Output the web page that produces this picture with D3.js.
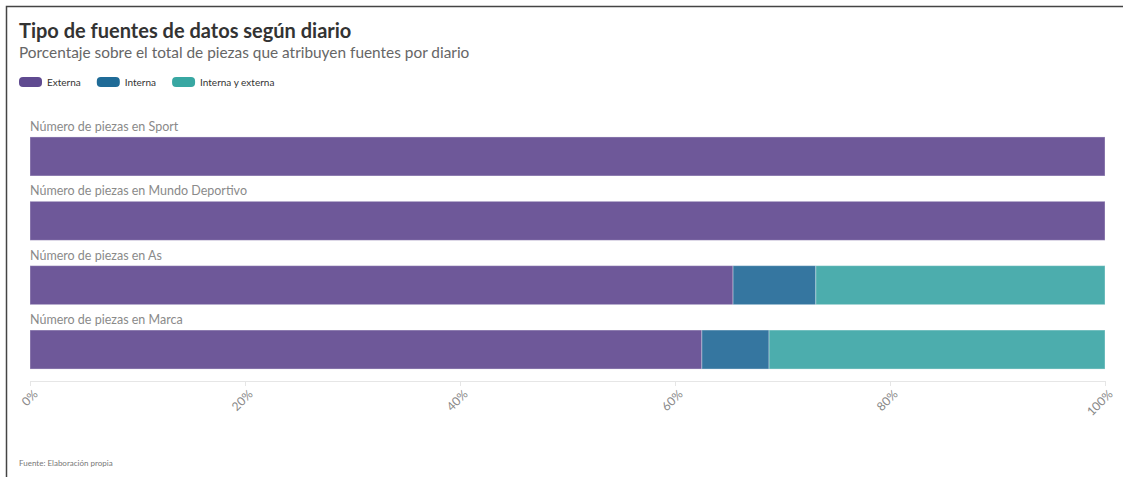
<!DOCTYPE html>
<html><head><meta charset="utf-8">
<script src="https://cdn.jsdelivr.net/npm/d3@7"></script>
<style>
body{margin:0;background:#fff;}
text{font-family:Lato,"Open Sans",sans-serif;}
</style></head>
<body><svg id="c" width="1123" height="477"></svg>
<script>
const categories = ["Sport","Mundo Deportivo","As","Marca"];
const seriesNames = ["Externa","Interna","Interna y externa"];
const externa = [100, 100, 65.4, 62.5];
const interna = [0, 0, 7.7, 6.25];
const internaExterna = [0, 0, 26.9, 31.25];
const tickValues = [0,20,40,60,80,100];
const barColors = ["#6e5899","#3576a0","#4cadad"];
const legendColors = ["#5f4a90","#1f6b97","#38a7a2"];

const svg = d3.select("#c");
// frame
svg.append("path").attr("d","M6.5,477 L6.5,6.5 L1123,6.5").attr("fill","none").attr("stroke","#444").attr("stroke-width",1.5);

svg.append("text").attr("x",19).attr("y",38).attr("font-size",20).attr("font-weight",700).attr("fill","#333").text("Tipo de fuentes de datos según diario");
svg.append("text").attr("x",19).attr("y",58).attr("font-size",15.4).attr("fill","#666").text("Porcentaje sobre el total de piezas que atribuyen fuentes por diario");

// legend
let lx = 19;
seriesNames.forEach((s,i)=>{
  const g = svg.append("g").attr("transform",`translate(${lx},77)`);
  g.append("rect").attr("width",23).attr("height",10).attr("rx",4).attr("fill",legendColors[i]);
  const t = g.append("text").attr("x",28).attr("y",9).attr("font-size",10).attr("fill","#333").text(s);
  lx += 28 + t.node().getComputedTextLength() + 16;
});

const x = d3.scaleLinear().domain([0,100]).range([30,1105]);
const y = d3.scaleBand().domain(categories).range([127.3,378.7]).paddingInner(0.394).paddingOuter(0.15);

const data = categories.map((c,i)=>({cat:c, vals:[externa[i],interna[i],internaExterna[i]]}));
const stack = [];
data.forEach(d=>{ let acc=0; d.vals.forEach((v,j)=>{ stack.push({cat:d.cat,x0:acc,x1:acc+v,j}); acc+=v; }); });

svg.append("g").selectAll("rect").data(stack.filter(s=>s.x1>s.x0)).join("rect")
  .attr("x",d=>x(d.x0)).attr("width",d=>x(d.x1)-x(d.x0))
  .attr("y",d=>y(d.cat)).attr("height",y.bandwidth())
  .attr("fill",d=>barColors[d.j]).attr("stroke","#fff").attr("stroke-opacity",0.35).attr("stroke-width",1);

svg.append("g").selectAll("text").data(categories).join("text")
  .attr("x",30).attr("y",d=>y(d)-6).attr("font-size",12.5).attr("fill","#8a8a8a")
  .text(d=>"Número de piezas en "+d);

// axis
const ax = svg.append("g").attr("transform","translate(0,381)")
  .call(d3.axisBottom(x).tickValues(tickValues).tickSize(5).tickFormat(d=>d+"%"));
ax.select(".domain").attr("stroke","#e6e6e6").attr("d","M30,0.5H1105");
ax.selectAll(".tick line").attr("stroke","#e6e6e6");
ax.selectAll(".tick text").attr("font-size",12).attr("fill","#888").attr("font-family","Lato,'Open Sans',sans-serif")
  .attr("text-anchor","end").attr("dy",null).attr("y",null)
  .attr("transform","translate(8,14) rotate(-45)");

svg.append("text").attr("x",19).attr("y",466).attr("font-size",8).attr("fill","#777").text("Fuente: Elaboración propia");
</script></body></html>
